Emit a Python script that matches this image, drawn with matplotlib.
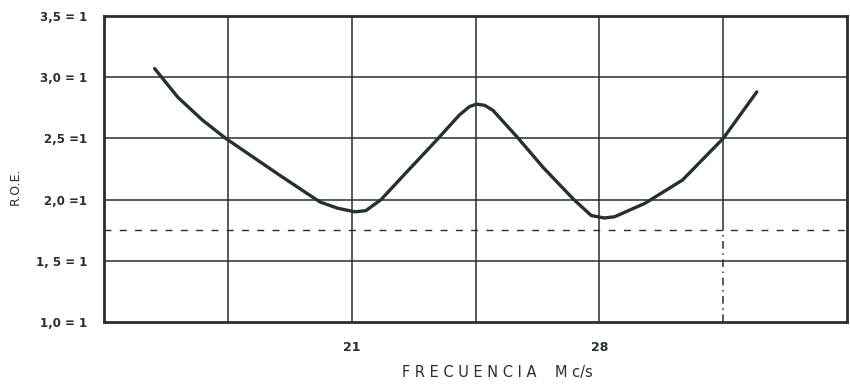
import matplotlib
matplotlib.use('Agg')
import matplotlib.pyplot as plt
import numpy as np

# curve (frequency Mc/s, R.O.E.)
freq = [15.43, 16.09, 16.78, 17.44, 18.22, 18.96, 19.74, 20.11, 20.60, 21.09,
        21.40, 21.83, 22.52, 23.38, 24.04, 24.33, 24.53, 24.76, 24.99, 25.68,
        26.42, 27.28, 27.77, 28.14, 28.43, 29.29, 30.35, 31.50, 32.45]
roe = [3.07, 2.835, 2.65, 2.50, 2.346, 2.20, 2.05, 1.98, 1.93, 1.90,
       1.91, 2.00, 2.215, 2.48, 2.69, 2.76, 2.78, 2.77, 2.73, 2.51,
       2.26, 2.00, 1.87, 1.85, 1.86, 1.97, 2.16, 2.50, 2.88]

y_ticks = [1.0, 1.5, 2.0, 2.5, 3.0, 3.5]
y_labels = ['1,0 = 1', '1, 5 = 1', '2,0 =1', '2,5 =1', '3,0 = 1', '3,5 = 1']
x_grid = [17.5, 21, 24.5, 28, 31.5]
x_ticks = [21, 28]
x_labels = ['21', '28']
limit_roe = 1.75

ink = '#26302d'

fig = plt.figure(figsize=(8.5, 3.88), dpi=100)
ax = fig.add_axes([0.1224, 0.170, 0.8741, 0.7888])
ax.set_xlim(14, 35)
ax.set_ylim(1.0, 3.5)

# grid
for yv in y_ticks[1:-1]:
    ax.axhline(yv, color=ink, lw=1.1, zorder=1)
for xv in x_grid:
    if xv == 31.5:
        ax.plot([xv, xv], [limit_roe, 3.5], color=ink, lw=1.1, zorder=1)
        ax.plot([xv, xv], [1.0, limit_roe], color=ink, lw=1.1,
                linestyle=(0, (5, 3, 1, 3)), zorder=1)
    else:
        ax.axvline(xv, color=ink, lw=1.1, zorder=1)

ax.axhline(limit_roe, color=ink, lw=1.0, linestyle=(0, (5, 6)), zorder=1)

ax.plot(freq, roe, color=ink, lw=2.4, solid_capstyle='round',
        solid_joinstyle='round', zorder=3)

for s in ax.spines.values():
    s.set_color(ink)
    s.set_linewidth(2.0)

ax.set_yticks(y_ticks)
ax.set_yticklabels(y_labels, fontsize=8.5, color=ink, fontweight='bold')
ax.set_xticks(x_ticks)
ax.set_xticklabels(x_labels, fontsize=9, color=ink, fontweight='bold')
ax.tick_params(length=0)
ax.tick_params(axis='y', pad=12)
ax.tick_params(axis='x', pad=14)

fig.text(0.585, 0.02, 'F R E C U E N C I A    M c/s', fontsize=10.5, color=ink,
         ha='center', va='bottom')
fig.text(0.018, 0.52, 'R.O.E.', fontsize=9, color=ink, rotation=90,
         ha='center', va='center')

fig.savefig('out.png', dpi=100, facecolor='white')
